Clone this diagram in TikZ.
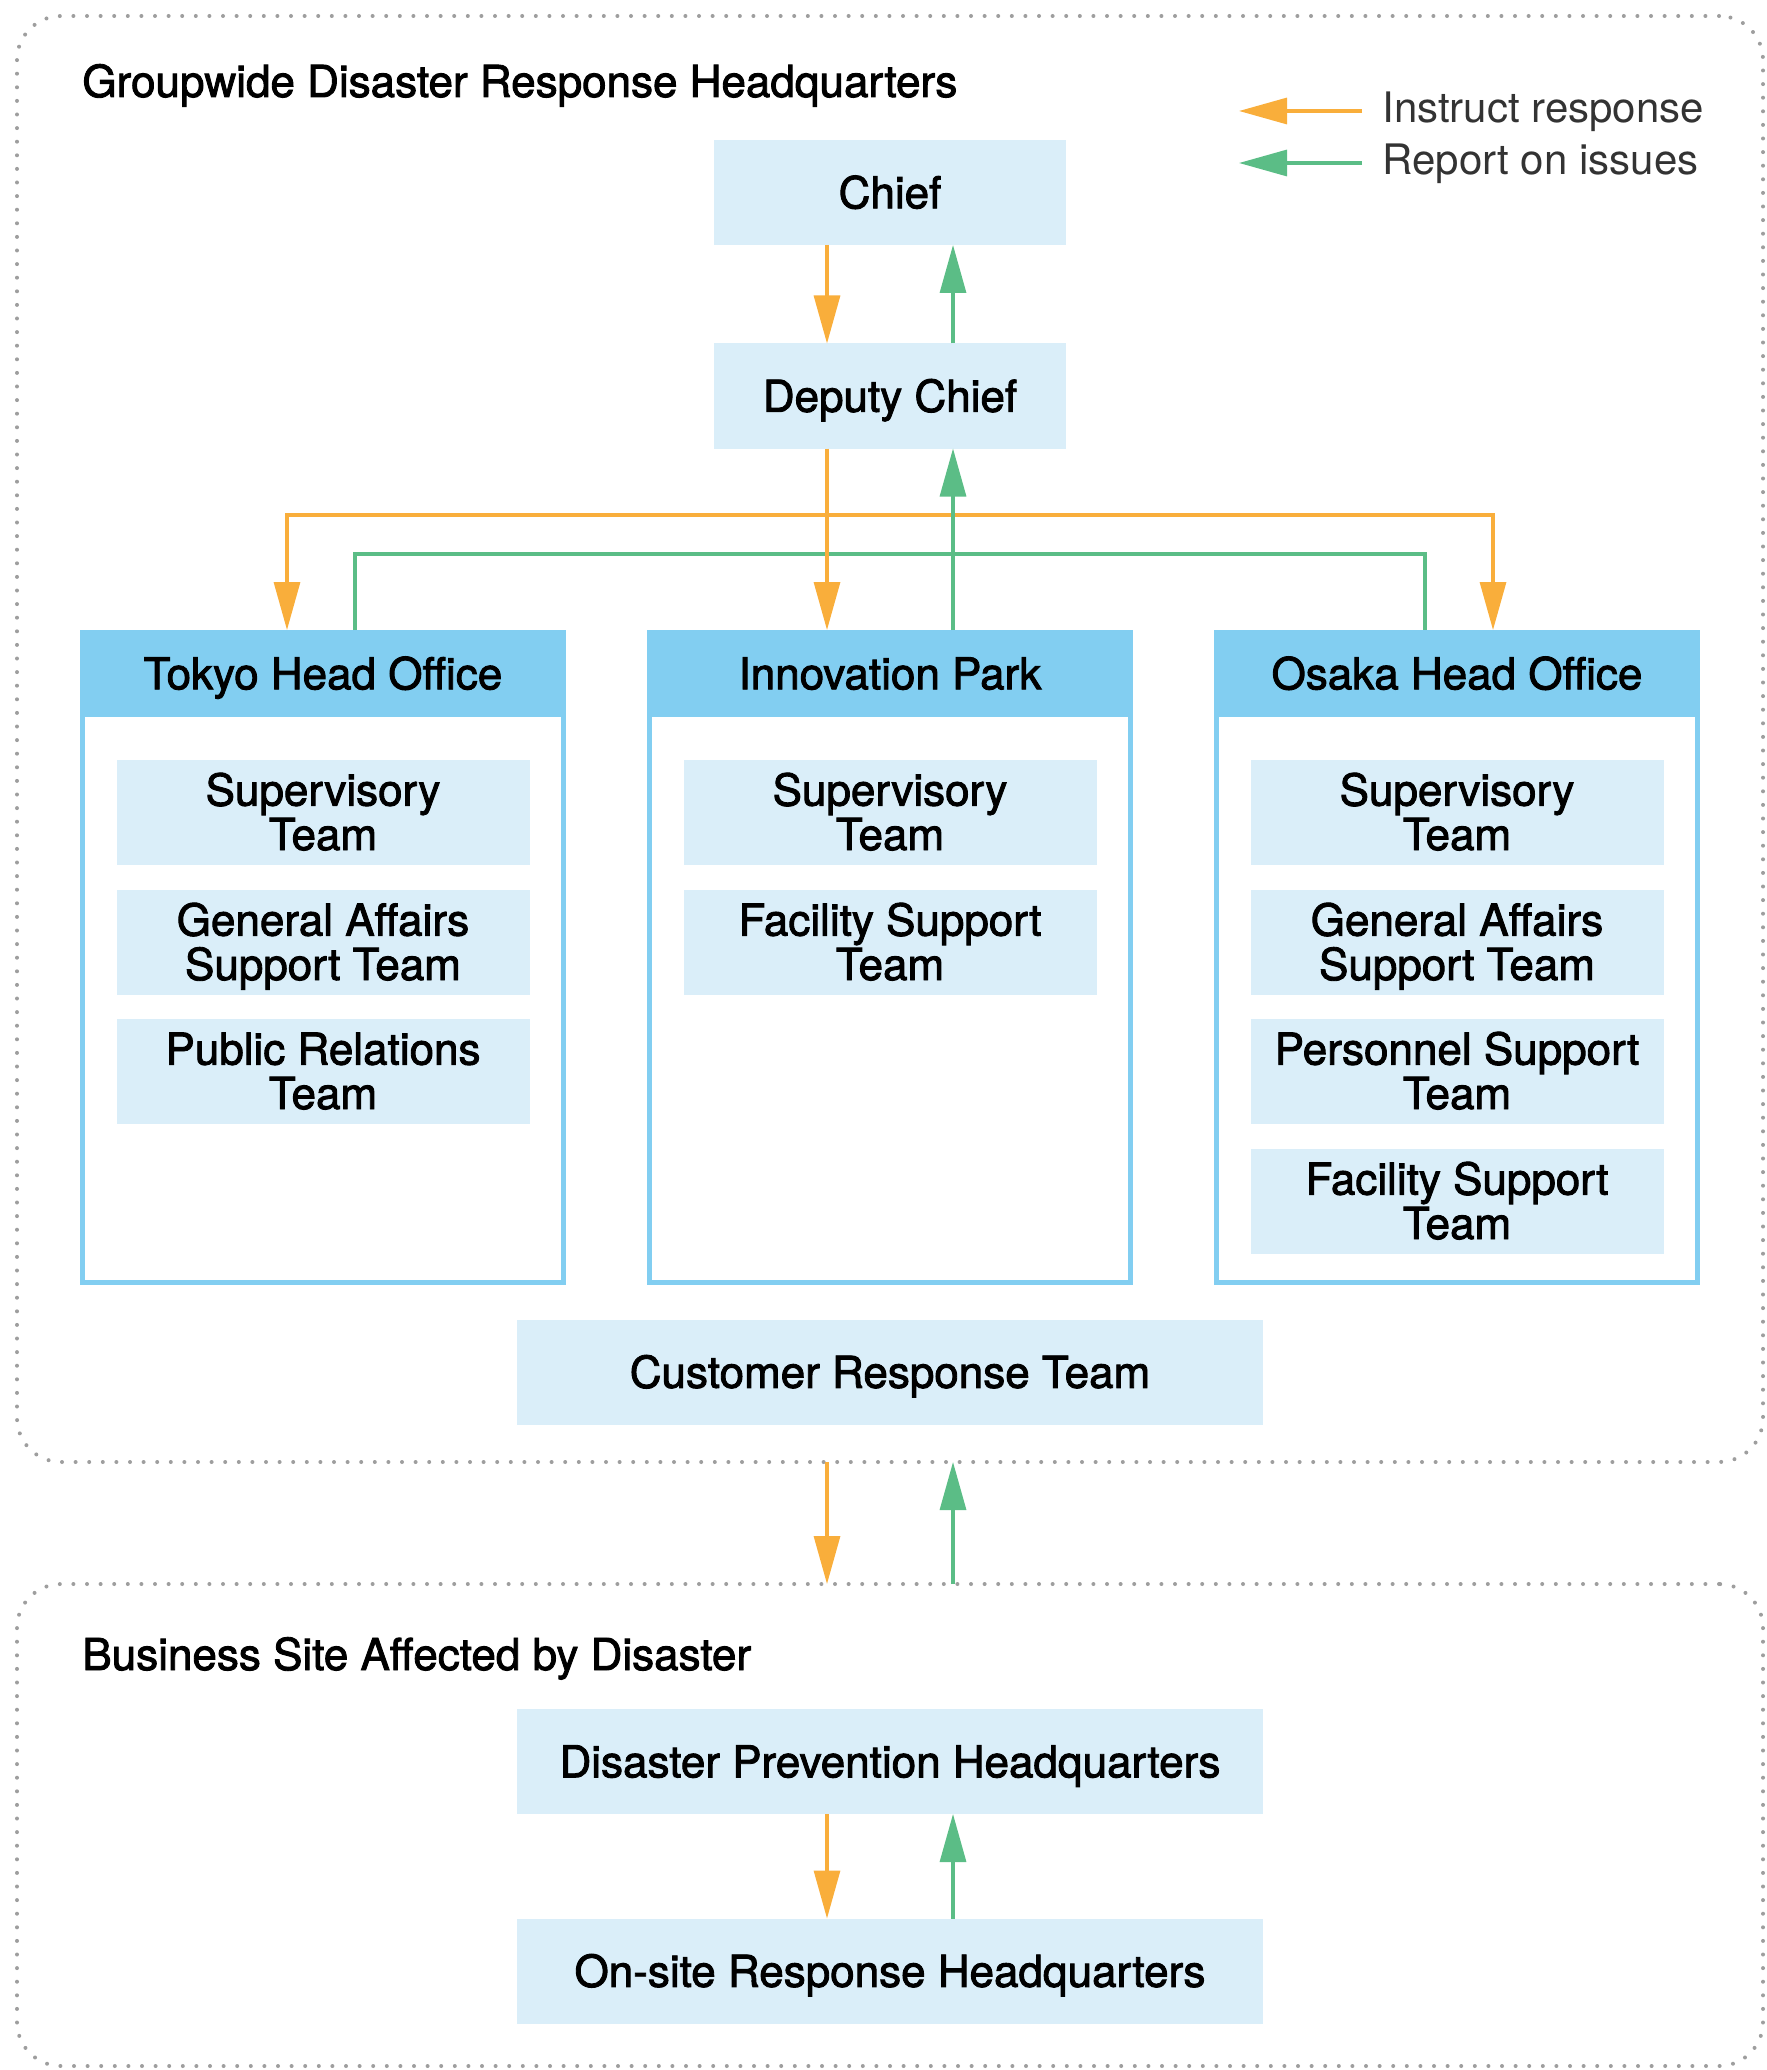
\documentclass[tikz,border=0pt]{standalone}
\usepackage{fontspec}
\setmainfont{TeX Gyre Heros}
\newfontfamily\mediumfont{TeX Gyre Heros}[FakeBold=2]
\usepackage{tikz}
\usetikzlibrary{arrows.meta}
\definecolor{boxblue}{HTML}{DAEEF9}
\definecolor{headblue}{HTML}{82CEF1}
\definecolor{instrorange}{HTML}{F9AE3B}
\definecolor{reportgreen}{HTML}{5BBD86}
\definecolor{dotgray}{HTML}{9E9E9E}
\definecolor{legendgray}{HTML}{333333}

\begin{document}
\begin{tikzpicture}[
        x=0.5pt, y=-0.5pt,
        >={Triangle[length=24pt,width=13pt]},
        every node/.append style={font=\mediumfont\fontsize{22}{22.2}\selectfont}
    ]
    \tikzstyle{frame}=[draw=dotgray,line width=2pt,dash pattern=on 0pt off 6.8pt,line cap=round,rounded corners=22pt,minimum width=873pt,inner sep=0pt,outer sep=0pt];
    \tikzstyle{box}=[fill=boxblue,inner sep=0pt,outer sep=0pt,minimum height=52.5pt,text height=15.8pt,text depth=0pt];
    \tikzstyle{team}=[box,align=center,minimum width=206.5pt,text height=38pt];
    \tikzstyle{office}=[draw=headblue,line width=2.2pt,minimum width=240.5pt,minimum height=325pt,inner sep=0pt,outer sep=0pt];
    \tikzstyle{head}=[box,fill=headblue,minimum width=243pt,minimum height=43.5pt];
    \tikzstyle{instr}=[instrorange,line width=1.6pt,->];
    \tikzstyle{report}=[reportgreen,line width=1.6pt,->];
    \tikzstyle{title}=[anchor=base west,inner sep=0pt];
    \tikzstyle{legend}=[anchor=base west,inner sep=0pt,text=legendgray,font=\normalfont\fontsize{21}{21}\selectfont];
    \useasboundingbox (0,0) rectangle (1766,2070);
    % frames
    \node[frame,minimum height=723pt] (hq) at (890,739) {};
    \node[frame,minimum height=241pt] (site) at (890,1825) {};
    \node[title] (hq-title) at (82,97) {Groupwide Disaster Response Headquarters};
    \node[title] (site-title) at (82,1670) {Business Site Affected by Disaster};
    % legend
    \node[legend] (lg-instr) at (1382,123) {Instruct response};
    \node[legend] (lg-report) at (1382,175) {Report on issues};
    \coordinate (lg-instr-a) at (1362,111);
    \coordinate (lg-instr-b) at (1239,111);
    \coordinate (lg-report-a) at (1362,163);
    \coordinate (lg-report-b) at (1239,163);
    \draw[instr] (lg-instr-a) -- (lg-instr-b);
    \draw[report] (lg-report-a) -- (lg-report-b);
    % chiefs
    \node[box,minimum width=176pt] (chief) at (890,192.5) {Chief};
    \node[box,minimum width=176pt] (deputy) at (890,396) {Deputy Chief};
    % Tokyo
    \begin{scope}[shift={(323,0)}]
        \node[office] (tokyo-box) at (0,957.5) {};
        \node[head] (tokyo) at (0,673.5) {Tokyo Head Office};
        \node[team] (tokyo-t1) at (0,812) {Supervisory\\Team};
        \node[team] (tokyo-t2) at (0,942) {General Affairs\\Support Team};
        \node[team] (tokyo-t3) at (0,1071) {Public Relations\\Team};
    \end{scope}
    % Innovation Park
    \begin{scope}[shift={(890,0)}]
        \node[office] (innov-box) at (0,957.5) {};
        \node[head] (innov) at (0,673.5) {Innovation Park};
        \node[team] (innov-t1) at (0,812) {Supervisory\\Team};
        \node[team] (innov-t2) at (0,942) {Facility Support\\Team};
    \end{scope}
    % Osaka
    \begin{scope}[shift={(1457,0)}]
        \node[office] (osaka-box) at (0,957.5) {};
        \node[head] (osaka) at (0,673.5) {Osaka Head Office};
        \node[team] (osaka-t1) at (0,812) {Supervisory\\Team};
        \node[team] (osaka-t2) at (0,942) {General Affairs\\Support Team};
        \node[team] (osaka-t3) at (0,1071) {Personnel Support\\Team};
        \node[team] (osaka-t4) at (0,1201) {Facility Support\\Team};
    \end{scope}
    \node[box,minimum width=373pt] (customer) at (890,1372) {Customer Response Team};
    % site
    \node[box,minimum width=373pt] (prevent) at (890,1761.5) {Disaster Prevention Headquarters};
    \node[box,minimum width=373pt] (onsite) at (890,1971) {On-site Response Headquarters};
    % arrows
    \coordinate (obar) at (0,515);
    \coordinate (gbar) at (0,554);
    \coordinate (tokyo-in) at ([xshift=-18pt]tokyo.north);
    \coordinate (tokyo-out) at ([xshift=16pt]tokyo.north);
    \coordinate (osaka-in) at ([xshift=18pt]osaka.north);
    \coordinate (osaka-out) at ([xshift=-16pt]osaka.north);
    \draw[instr] ([xshift=-31.5pt]chief.south) -- ([xshift=-31.5pt]deputy.north);
    \draw[report] ([xshift=31.5pt]deputy.north) -- ([xshift=31.5pt]chief.south);
    \draw[instr,<->] (tokyo-in) |- (osaka-in |- obar) -- (osaka-in);
    \draw[report,-] (tokyo-out) |- (osaka-out |- gbar) -- (osaka-out);
    \draw[report] ([xshift=31.5pt]innov.north) -- ([xshift=31.5pt]deputy.south);
    \draw[instr] ([xshift=-31.5pt]deputy.south) -- ([xshift=-31.5pt]innov.north);
    \draw[instr] ([xshift=-31.5pt]hq.south) -- ([xshift=-31.5pt]site.north);
    \draw[report] ([xshift=31.5pt]site.north) -- ([xshift=31.5pt]hq.south);
    \draw[instr] ([xshift=-31.5pt]prevent.south) -- ([xshift=-31.5pt]onsite.north);
    \draw[report] ([xshift=31.5pt]onsite.north) -- ([xshift=31.5pt]prevent.south);
\end{tikzpicture}
\end{document}
